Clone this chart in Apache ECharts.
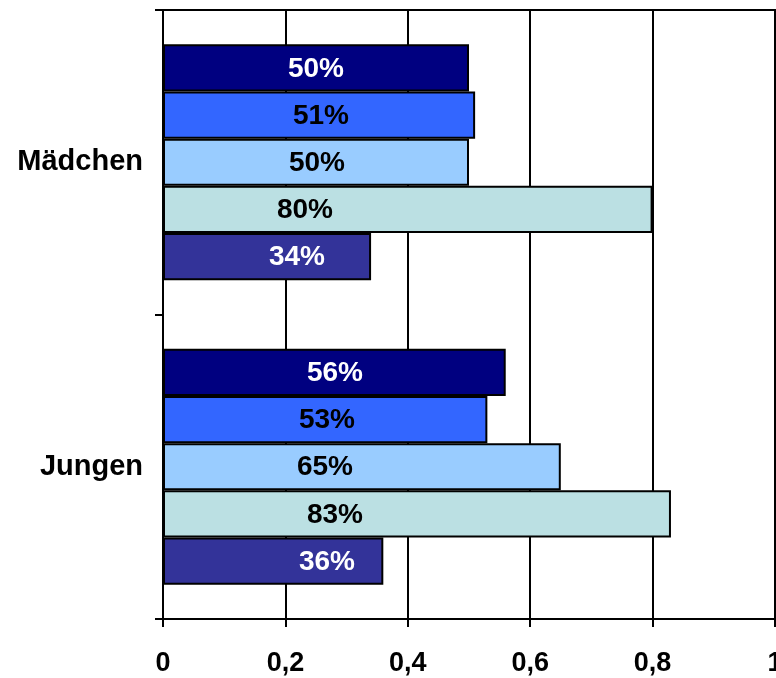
<!DOCTYPE html>
<html>
<head>
<meta charset="utf-8">
<script src="https://cdn.jsdelivr.net/npm/echarts@6/dist/echarts.min.js"></script>
<style>
  html, body { margin: 0; padding: 0; background: #fff; }
  #chart { width: 776px; height: 678px; }
</style>
</head>
<body>
<div id="chart"></div>
<script>
// Categories, bottom to top on the vertical axis
const categories = ['Jungen', 'Mädchen'];

// Shares per series, listed as [Jungen, Mädchen]
const seriesNavy  = [0.56, 0.50];
const seriesBlue  = [0.53, 0.51];
const seriesLight = [0.65, 0.50];
const seriesCyan  = [0.83, 0.80];
const seriesSlate = [0.36, 0.34];

// Tick labels of the value axis
const xTicks = [0, 0.2, 0.4, 0.6, 0.8, 1];

// Label x-offsets inside each bar (pixels from the bar start), [Jungen, Mädchen]
const labelX = {
  navy:  [172, 153],
  blue:  [164, 158],
  light: [162, 154],
  cyan:  [172, 142],
  slate: [164, 134]
};

const FONT = '"Liberation Sans", Arial, Helvetica, sans-serif';

function makeSeries(name, values, color, textColor, offsets) {
  return {
    name: name,
    type: 'bar',
    barGap: '0%',
    barCategoryGap: '22.5%',
    itemStyle: { color: color, borderColor: '#000', borderWidth: 2 },
    data: values.map((v, i) => ({
      value: v,
      label: { position: [offsets[i], '52%'] }
    })),
    label: {
      show: true,
      align: 'center',
      verticalAlign: 'middle',
      color: textColor,
      fontFamily: FONT,
      fontWeight: 'bold',
      fontSize: 28,
      formatter: p => Math.round(p.value * 100) + '%'
    },
    z: 3
  };
}

const chart = echarts.init(document.getElementById('chart'), null, { renderer: 'canvas' });

chart.setOption({
  animation: false,
  backgroundColor: '#fff',
  grid: {
    left: 163, right: 1, top: 10, bottom: 59,
    show: true, borderColor: '#000', borderWidth: 2,
    containLabel: false,
    outerBoundsMode: 'none'
  },
  xAxis: {
    type: 'value',
    min: xTicks[0],
    max: xTicks[xTicks.length - 1],
    interval: 0.2,
    axisLine: { show: true, lineStyle: { color: '#000', width: 2 } },
    axisTick: { show: true, length: 8, lineStyle: { color: '#000', width: 2 } },
    splitLine: { show: true, lineStyle: { color: '#000', width: 2 } },
    axisLabel: {
      margin: 31,
      color: '#000',
      fontFamily: FONT,
      fontWeight: 'bold',
      fontSize: 27,
      formatter: v => String(v).replace('.', ',')
    }
  },
  yAxis: {
    type: 'category',
    data: categories,
    axisLine: { show: true, lineStyle: { color: '#000', width: 2 } },
    axisTick: { show: true, length: 8, lineStyle: { color: '#000', width: 2 } },
    splitLine: { show: false },
    axisLabel: {
      margin: 20,
      color: '#000',
      fontFamily: FONT,
      fontWeight: 'bold',
      fontSize: 29
    }
  },
  series: [
    makeSeries('Reihe 1', seriesNavy,  '#000080', '#fff', labelX.navy),
    makeSeries('Reihe 2', seriesBlue,  '#3366ff', '#000', labelX.blue),
    makeSeries('Reihe 3', seriesLight, '#99ccff', '#000', labelX.light),
    makeSeries('Reihe 4', seriesCyan,  '#bbe0e3', '#000', labelX.cyan),
    makeSeries('Reihe 5', seriesSlate, '#333399', '#fff', labelX.slate)
  ]
});
</script>
</body>
</html>
